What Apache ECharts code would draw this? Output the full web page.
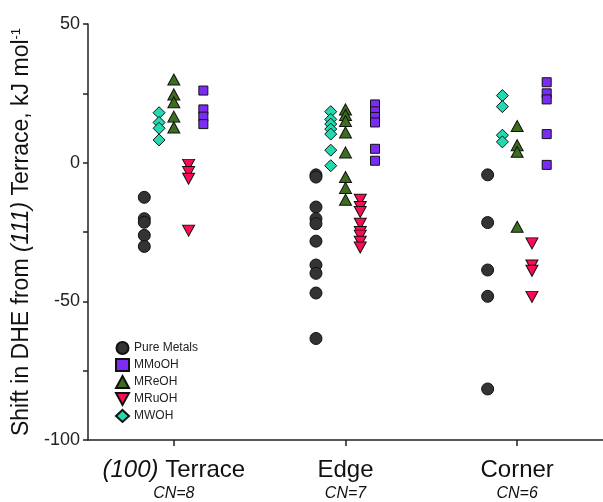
<!DOCTYPE html>
<html>
<head>
<meta charset="utf-8">
<script src="https://cdn.jsdelivr.net/npm/echarts@6/dist/echarts.min.js"></script>
<style>
  html, body { margin: 0; padding: 0; background: #fff; }
  #chart { width: 603px; height: 502px; }
</style>
</head>
<body>
<div id="chart"></div>
<script>
// categories along x, with their CN subtitle
const categories = ['(100) Terrace', 'Edge', 'Corner'];
const cnLabels = ['CN=8', 'CN=7', 'CN=6'];

// values per category: [terrace, edge, corner]
const pureMetals = [
  [-12.5, -20.2, -21.5, -26.2, -30.2],
  [-4.4, -5.2, -16, -20.2, -22, -28.3, -36.9, -39.9, -47, -63.4],
  [-4.4, -21.6, -38.7, -48.2, -81.6]
];
const mMoOH = [
  [26, 19.2, 16.6, 13.9],
  [21, 18.5, 16.5, 14.5, 5, 0.7],
  [29, 25, 22.8, 10.3, -0.8]
];
const mReOH = [
  [30, 24.6, 21.8, 16.6, 12.7],
  [19.2, 17.2, 15, 10.9, 3.7, -5.2, -9.1, -13.4],
  [13.2, 6.3, 3.9, -23.1]
];
const mRuOH = [
  [-0.8, -3.4, -5.8, -24.5],
  [-13.4, -16, -17.8, -22, -25, -26.3, -28.5, -30.6],
  [-29.1, -37.1, -39, -48.4]
];
const mWOH = [
  [18, 14.5, 12.4, 8.2],
  [18.4, 15.6, 13.9, 12.1, 10.3, 4.5, -1.1],
  [24.2, 20.2, 9.9, 7.5]
];

const chart = echarts.init(document.getElementById('chart'));

// place each series a little left/right of the category centre
function toPoints(groups, offset) {
  const pts = [];
  groups.forEach((vals, c) => {
    vals.forEach(v => pts.push([c + 1 + offset, v]));
  });
  return pts;
}

function style(color) {
  return { color: color, opacity: 1, borderColor: '#111', borderWidth: 1 };
}

const downTri = 'path://M0,0L12,0L6,11Z';

const option = {
  animation: false,
  textStyle: { fontFamily: 'Liberation Sans, Arial, sans-serif' },
  grid: { left: 88, top: 24, width: 523.5, height: 419 },
  legend: {
    orient: 'vertical',
    left: 110,
    top: 336,
    itemWidth: 13,
    itemHeight: 12,
    itemGap: 3,
    textStyle: { fontSize: 12, color: '#222' },
    data: [
      { name: 'Pure Metals' },
      { name: 'MMoOH' },
      { name: 'MReOH' },
      { name: 'MRuOH', icon: downTri },
      { name: 'MWOH' }
    ]
  },
  xAxis: {
    type: 'value',
    min: 0.5,
    max: 3.5,
    splitLine: { show: false },
    axisLine: { onZero: false, lineStyle: { color: '#222', width: 1.5 } },
    axisTick: { customValues: [1, 2, 3], length: 6, lineStyle: { color: '#222', width: 1.5 } },
    axisLabel: {
      customValues: [1, 2, 3],
      margin: 17,
      formatter: function (v) {
        const i = Math.round(v) - 1;
        const name = categories[i];
        let top;
        if (name.startsWith('(')) {
          const k = name.indexOf(')') + 1;
          top = '{it|' + name.slice(0, k) + '}{n|' + name.slice(k) + '}';
        } else {
          top = '{n|' + name + '}';
        }
        return top + '\n{cn|' + cnLabels[i] + '}';
      },
      rich: {
        n: { fontSize: 24, color: '#111', lineHeight: 26 },
        it: { fontSize: 24, color: '#111', fontStyle: 'italic', lineHeight: 26 },
        cn: { fontSize: 16, color: '#111', fontStyle: 'italic', lineHeight: 22 }
      }
    }
  },
  yAxis: {
    type: 'value',
    min: -100,
    max: 50,
    interval: 25,
    splitLine: { show: false },
    axisLine: { show: true, onZero: false, lineStyle: { color: '#222', width: 1.5 } },
    axisTick: { show: true, length: 5, lineStyle: { color: '#222', width: 1.5 } },
    axisLabel: {
      fontSize: 18,
      color: '#222',
      margin: 8,
      formatter: v => (v % 50 === 0 ? String(v) : '')
    },
    name: '{n|Shift in DHE from }{it|(111)}{n| Terrace, kJ mol}{s|-1}',
    nameLocation: 'middle',
    nameRotate: 90,
    nameGap: 44,
    nameTextStyle: {
      rich: {
        n: { fontSize: 23, color: '#111' },
        it: { fontSize: 23, color: '#111', fontStyle: 'italic' },
        s: { fontSize: 13, color: '#111', verticalAlign: 'top', padding: [0, 0, 10, 0] }
      }
    }
  },
  series: [
    {
      name: 'Pure Metals', type: 'scatter', symbol: 'circle', symbolSize: 12,
      itemStyle: style('#333333'),
      data: toPoints(pureMetals, -0.172)
    },
    {
      name: 'MMoOH', type: 'scatter', symbol: 'rect', symbolSize: 9,
      itemStyle: style('#7a2cf5'),
      data: toPoints(mMoOH, 0.172)
    },
    {
      name: 'MReOH', type: 'scatter', symbol: 'triangle', symbolSize: [12, 11],
      itemStyle: style('#3c6e1e'),
      data: toPoints(mReOH, 0)
    },
    {
      name: 'MRuOH', type: 'scatter', symbol: 'triangle', symbolRotate: 180, symbolSize: [12, 11],
      itemStyle: style('#ff0a55'),
      data: toPoints(mRuOH, 0.086)
    },
    {
      name: 'MWOH', type: 'scatter', symbol: 'diamond', symbolSize: [12, 12],
      itemStyle: style('#22d9b0'),
      data: toPoints(mWOH, -0.086)
    }
  ]
};

chart.setOption(option);
</script>
</body>
</html>
